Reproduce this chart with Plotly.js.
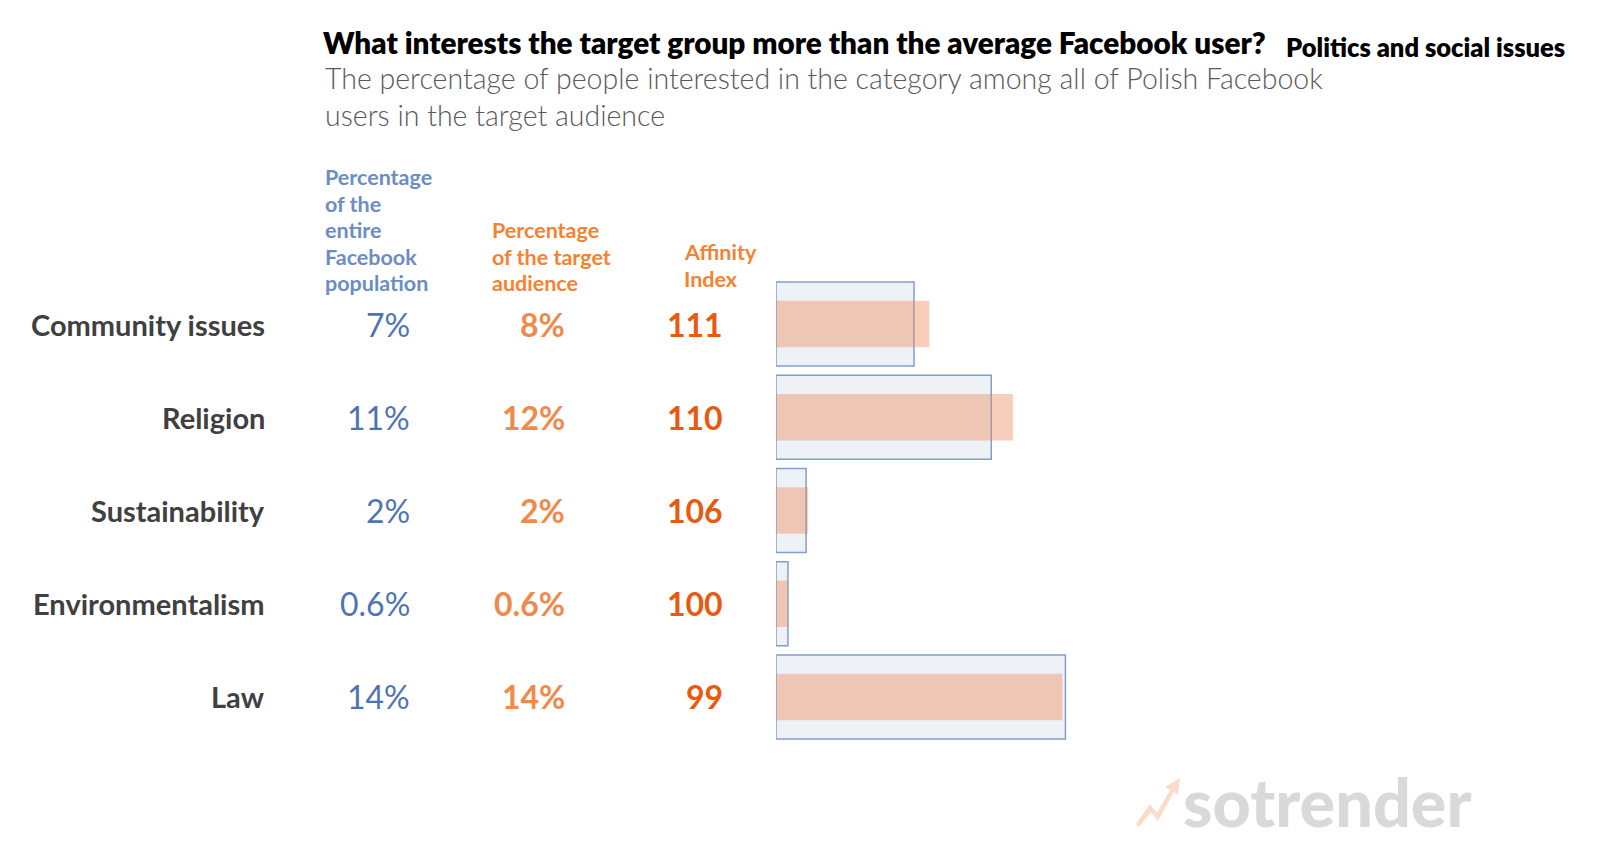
<!DOCTYPE html>
<html>
<head>
<meta charset="utf-8">
<script src="https://cdn.plot.ly/plotly-3.0.1.min.js"></script>
<style>html,body{margin:0;padding:0;background:#fff;}#chart{width:1600px;height:855px;}</style>
</head>
<body>
<div id="chart"></div>
<script>
const categories = ['Community issues', 'Religion', 'Sustainability', 'Environmentalism', 'Law'];
const populationPct = [6.7, 10.45, 1.46, 0.58, 14.05];
const targetPct = [7.44, 11.5, 1.55, 0.58, 13.9];
const populationLabels = ['7%', '11%', '2%', '0.6%', '14%'];
const targetLabels = ['8%', '12%', '2%', '0.6%', '14%'];
const affinityIndex = [111, 110, 106, 100, 99];
const headerPopulation = ['Percentage', 'of the', 'entire', 'Facebook', 'population'];
const headerTarget = ['Percentage', 'of the target', 'audience'];
const headerAffinity = ['Affinity', 'Index'];

const W = 1600, H = 855;
const px = x => x / W;
const py = y => 1 - y / H;
const FONT = 'Lato, "Noto Sans", sans-serif';

const traces = [
  {
    type: 'bar', orientation: 'h', y: categories, x: populationPct, width: 0.9,
    marker: {color: '#EEF2F7', line: {color: '#819ECB', width: 1.5}},
    hoverinfo: 'skip', showlegend: false
  },
  {
    type: 'bar', orientation: 'h', y: categories, x: targetPct, width: 0.5,
    marker: {color: 'rgba(236,135,88,0.41)', line: {width: 0}},
    hoverinfo: 'skip', showlegend: false
  }
];

const annotations = [];
// subtitle
annotations.push({
  xref: 'paper', yref: 'paper', x: px(323), y: py(96), xanchor: 'left', yanchor: 'middle', align: 'left',
  text: 'The percentage of people interested in the category among all of Polish Facebook<br>users in the target audience',
  showarrow: false, font: {family: FONT, size: 28.5, color: '#595959', weight: 300}
});
annotations.push({
  xref: 'paper', yref: 'paper', x: px(1284), y: py(47), xanchor: 'left', yanchor: 'middle',
  text: 'Politics and social issues', showarrow: false,
  font: {family: FONT, size: 25.5, color: '#000000', weight: 800}
});
// column headers, one line each
function addHeader(lines, x, lastY, color) {
  lines.forEach((t, k) => {
    annotations.push({
      xref: 'paper', yref: 'paper', x: px(x), y: py(lastY - (lines.length - 1 - k) * 26.5),
      xanchor: 'left', yanchor: 'middle', align: 'left', text: t, showarrow: false,
      font: {family: FONT, size: 21.5, color: color, weight: 700}
    });
  });
}
addHeader(headerPopulation, 323, 283, '#6B8DC4');
addHeader(headerTarget, 490, 283, '#F5822F');
addHeader(headerAffinity, 682, 279, '#F5822F');
// rows
categories.forEach((c, i) => {
  annotations.push({xref: 'paper', yref: 'y', x: px(267), y: c, xanchor: 'right', yanchor: 'middle',
    text: c, showarrow: false, font: {family: FONT, size: 29, color: '#404040', weight: 700}});
  annotations.push({xref: 'paper', yref: 'y', x: px(412), y: c, xanchor: 'right', yanchor: 'middle',
    text: populationLabels[i], showarrow: false, font: {family: FONT, size: 32, color: '#4F74B3', weight: 400}});
  annotations.push({xref: 'paper', yref: 'y', x: px(567), y: c, xanchor: 'right', yanchor: 'middle',
    text: targetLabels[i], showarrow: false, font: {family: FONT, size: 32, color: '#F08A4B', weight: 700}});
  annotations.push({xref: 'paper', yref: 'y', x: px(725), y: c, xanchor: 'right', yanchor: 'middle',
    text: String(affinityIndex[i]), showarrow: false, font: {family: FONT, size: 32, color: '#E85A10', weight: 700}});
});
// logo
annotations.push({
  xref: 'paper', yref: 'paper', x: px(1181), y: py(801), xanchor: 'left', yanchor: 'middle',
  text: 'sotrender', showarrow: false,
  font: {family: FONT, size: 66.5, color: '#D9D9D9', weight: 900}
});

const arrowPts = [[1136,824],[1150,804],[1157,813],[1170,790],[1165,787],[1180,778],[1178,795],[1174,792],[1158,821],[1151,812],[1139,827]];
const arrowPath = 'M ' + arrowPts.map(p => px(p[0]) + ',' + py(p[1])).join(' L ') + ' Z';

const layout = {
  width: W, height: H,
  margin: {l: 0, r: 0, t: 0, b: 0},
  paper_bgcolor: '#ffffff', plot_bgcolor: 'rgba(0,0,0,0)',
  barmode: 'overlay',
  title: {
    text: 'What interests the target group more than the average Facebook user?',
    x: px(323), xanchor: 'left', y: py(44), yanchor: 'middle', xref: 'paper', yref: 'paper',
    font: {family: FONT, size: 29.7, color: '#000000', weight: 800}
  },
  xaxis: {domain: [px(776), 1], range: [0, 40], visible: false, fixedrange: true},
  yaxis: {domain: [py(743.6), py(277.4)], type: 'category', categoryarray: categories,
          range: [4.5, -0.5], visible: false, fixedrange: true},
  annotations: annotations,
  shapes: [{type: 'path', xref: 'paper', yref: 'paper', path: arrowPath,
            fillcolor: '#FBDCCB', line: {width: 0}}]
};

Plotly.newPlot('chart', traces, layout, {staticPlot: true, displayModeBar: false});
</script>
</body>
</html>
